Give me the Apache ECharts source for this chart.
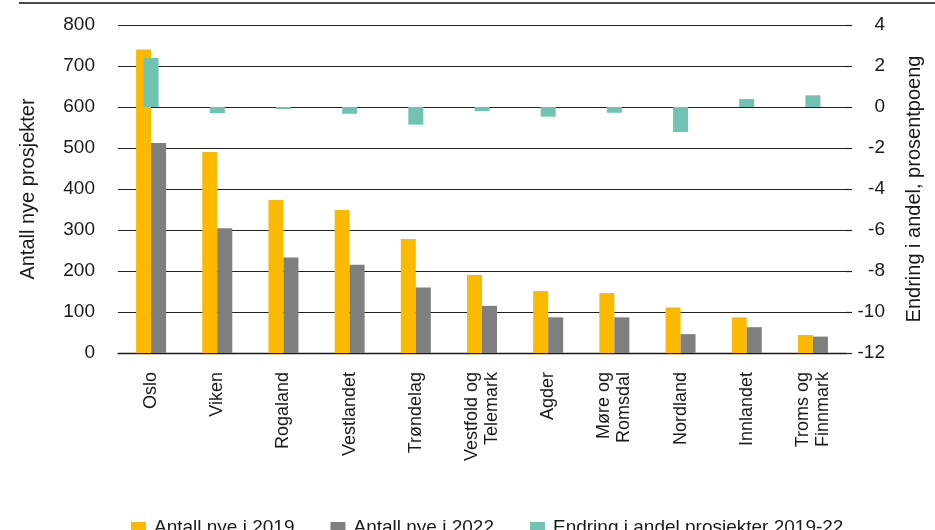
<!DOCTYPE html>
<html>
<head>
<meta charset="utf-8">
<script src="https://cdn.jsdelivr.net/npm/echarts@6/dist/echarts.min.js"></script>
<style>
html,body{margin:0;padding:0;background:#fff;}
#chart{width:935px;height:530px;}
</style>
</head>
<body>
<div id="chart"></div>
<script>
var categories = ['Oslo', 'Viken', 'Rogaland', 'Vestlandet', 'Trøndelag', 'Vestfold og\nTelemark', 'Agder', 'Møre og\nRomsdal', 'Nordland', 'Innlandet', 'Troms og\nFinnmark'];
var antall2019 = [740, 490, 373, 349, 278, 190, 151, 146, 111, 87, 44];
var antall2022 = [512, 304, 233, 215, 160, 115, 87, 87, 46, 63, 40];
var endringAndel = [2.4, -0.3, -0.1, -0.33, -0.86, -0.2, -0.47, -0.28, -1.22, 0.39, 0.57];

var FONT = '"Liberation Sans", Arial, sans-serif';
var TXT = '#1a1a1a';
var chart = echarts.init(document.getElementById('chart'), null, {renderer: 'canvas'});
chart.setOption({
  backgroundColor: '#ffffff',
  animation: false,
  textStyle: {fontFamily: FONT, color: TXT},
  graphic: [{
    type: 'line',
    shape: {x1: 19, y1: 3, x2: 935, y2: 3},
    style: {stroke: '#111', lineWidth: 1.5}
  }],
  grid: {left: 118, right: 89, top: 25, bottom: 177, containLabel: false},
  legend: {
    left: 126,
    top: 513,
    itemWidth: 15,
    itemHeight: 11,
    itemGap: 36,
    icon: 'rect',
    textStyle: {fontFamily: FONT, fontSize: 19, color: TXT, padding: [4, 0, 0, 3]},
    data: ['Antall nye i 2019', 'Antall nye i 2022', 'Endring i andel prosjekter 2019-22']
  },
  xAxis: [{
    type: 'category',
    data: categories,
    axisLine: {show: true, lineStyle: {color: '#1a1a1a', width: 1.3}},
    axisTick: {show: false},
    axisLabel: {
      rotate: 90, margin: 19, interval: 0,
      fontFamily: FONT, fontSize: 18, color: TXT, lineHeight: 20
    }
  }, {
    type: 'category',
    data: categories,
    show: false
  }],
  yAxis: [{
    type: 'value',
    min: 0, max: 800, interval: 100,
    name: 'Antall nye prosjekter',
    nameLocation: 'middle',
    nameRotate: 90,
    nameGap: 80,
    nameTextStyle: {fontFamily: FONT, fontSize: 20, color: TXT},
    axisLine: {show: false},
    axisTick: {show: false},
    axisLabel: {fontFamily: FONT, fontSize: 19, color: TXT, margin: 23},
    splitLine: {show: true, lineStyle: {color: '#222', width: 1.2}}
  }, {
    type: 'value',
    position: 'right',
    min: -12, max: 4, interval: 2,
    name: 'Endring i andel, prosentpoeng',
    nameLocation: 'middle',
    nameRotate: 90,
    nameGap: 58,
    nameTextStyle: {fontFamily: FONT, fontSize: 20, color: TXT},
    axisLine: {show: false},
    axisTick: {show: true, length: 6, lineStyle: {color: '#222', width: 1.2}},
    axisLabel: {fontFamily: FONT, fontSize: 19, color: TXT, margin: 39, align: 'right'},
    splitLine: {show: false}
  }],
  series: [{
    name: 'Antall nye i 2019',
    type: 'bar',
    xAxisIndex: 0, yAxisIndex: 0,
    data: antall2019,
    barWidth: 15,
    barGap: '0%',
    itemStyle: {color: '#FBB900'}
  }, {
    name: 'Antall nye i 2022',
    type: 'bar',
    xAxisIndex: 0, yAxisIndex: 0,
    data: antall2022,
    barWidth: 15,
    barGap: '0%',
    itemStyle: {color: '#7F7F7F'}
  }, {
    name: 'Endring i andel prosjekter 2019-22',
    type: 'bar',
    xAxisIndex: 1, yAxisIndex: 1,
    data: endringAndel,
    barWidth: 15,
    itemStyle: {color: '#6FC3B0'}
  }]
});
</script>
</body>
</html>
